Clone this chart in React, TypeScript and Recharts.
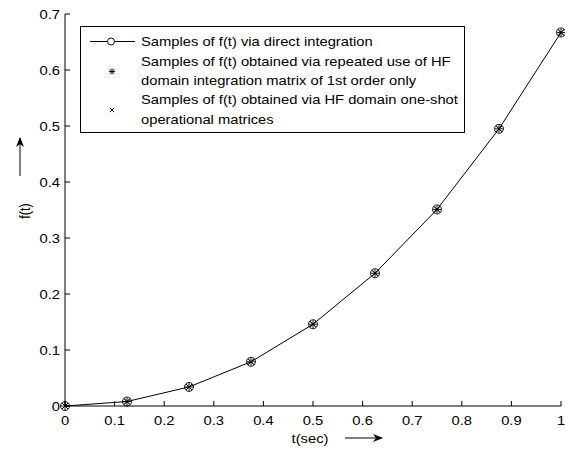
import React from 'react';
import { LineChart, Line, XAxis, YAxis, Legend } from 'recharts';

const tValues = [0, 0.125, 0.25, 0.375, 0.5, 0.625, 0.75, 0.875, 1];
const directSamples = [0, 0.008, 0.034, 0.079, 0.146, 0.237, 0.351, 0.495, 0.667];
const repeatedSamples = [0, 0.008, 0.034, 0.079, 0.146, 0.237, 0.351, 0.495, 0.667];
const oneShotSamples = [0, 0.008, 0.034, 0.079, 0.146, 0.237, 0.351, 0.495, 0.667];
const xTicks = [0, 0.1, 0.2, 0.3, 0.4, 0.5, 0.6, 0.7, 0.8, 0.9, 1];
const yTicks = [0, 0.1, 0.2, 0.3, 0.4, 0.5, 0.6, 0.7];
const legendLines = [
  ['Samples of f(t) via direct integration'],
  ['Samples of f(t) obtained via repeated use of HF', 'domain integration matrix of 1st order only'],
  ['Samples of f(t) obtained via HF domain one-shot', 'operational matrices'],
];
const xTitle = 't(sec)';
const yTitle = 'f(t)';

const data = tValues.map((t, i) => ({
  t,
  direct: directSamples[i],
  repeated: repeatedSamples[i],
  oneshot: oneShotSamples[i],
}));

const FONT = '"Liberation Sans", Arial, Helvetica, sans-serif';
const FS = 12.6;
const SX = 1.17;

const fmt = (v: number) => String(v);

const SText = ({ x, y, anchor = 'start', children }: any) => (
  <g transform={`translate(${x},${y}) scale(${SX},1)`}>
    <text x={0} y={0} textAnchor={anchor} fontFamily={FONT} fontSize={FS} fill="#000">
      {children}
    </text>
  </g>
);

const BottomTick = (p: any) => (
  <g>
    <line x1={p.x} y1={p.y} x2={p.x} y2={p.y - 5} stroke="#000" strokeWidth={1} />
    <SText x={p.x} y={p.y + 19} anchor="middle">{fmt(p.payload.value)}</SText>
  </g>
);
const TopTick = (p: any) => (
  <line x1={p.x} y1={p.y} x2={p.x} y2={p.y + 5} stroke="#000" strokeWidth={1} />
);
const LeftTick = (p: any) => (
  <g>
    <line x1={p.x} y1={p.y} x2={p.x + 5} y2={p.y} stroke="#000" strokeWidth={1} />
    <SText x={p.x - 5} y={p.y + 4.5} anchor="end">{fmt(p.payload.value)}</SText>
  </g>
);
const RightTick = (p: any) => (
  <line x1={p.x} y1={p.y} x2={p.x - 5} y2={p.y} stroke="#000" strokeWidth={1} />
);

const circleDot = (p: any) => (
  <circle key={`c${p.index}`} cx={p.cx} cy={p.cy} r={4.5} fill="none" stroke="#000" strokeWidth={0.9} />
);
const starShape = (cx: number, cy: number, s: number, k: string) => (
  <g key={k} stroke="#000" strokeWidth={0.9}>
    <line x1={cx - s} y1={cy} x2={cx + s} y2={cy} />
    <line x1={cx} y1={cy - s} x2={cx} y2={cy + s} />
    <line x1={cx - s * 0.7} y1={cy - s * 0.7} x2={cx + s * 0.7} y2={cy + s * 0.7} />
    <line x1={cx - s * 0.7} y1={cy + s * 0.7} x2={cx + s * 0.7} y2={cy - s * 0.7} />
  </g>
);
const xShape = (cx: number, cy: number, s: number, k: string) => (
  <g key={k} stroke="#000" strokeWidth={0.9}>
    <line x1={cx - s} y1={cy - s} x2={cx + s} y2={cy + s} />
    <line x1={cx - s} y1={cy + s} x2={cx + s} y2={cy - s} />
  </g>
);
const starDot = (p: any) => starShape(p.cx, p.cy, 4, `s${p.index}`);
const xDot = (p: any) => xShape(p.cx, p.cy, 3, `x${p.index}`);

const LegendBox = () => (
  <svg width={386} height={108} style={{ display: 'block' }}>
    <rect x={0.5} y={0.5} width={384} height={106} fill="#fff" stroke="#000" strokeWidth={1} />
    <line x1={10} y1={15.5} x2={55} y2={15.5} stroke="#000" strokeWidth={1} />
    <circle cx={31} cy={15.5} r={3.5} fill="#fff" stroke="#000" strokeWidth={0.9} />
    {starShape(32, 45.5, 3.2, 'ls')}
    {xShape(32, 84, 2.2, 'lx')}
    <SText x={61} y={20}>{legendLines[0][0]}</SText>
    <SText x={61} y={39.5}>{legendLines[1][0]}</SText>
    <SText x={61} y={58.5}>{legendLines[1][1]}</SText>
    <SText x={61} y={78}>{legendLines[2][0]}</SText>
    <SText x={61} y={98}>{legendLines[2][1]}</SText>
  </svg>
);

export default function App() {
  return (
    <div style={{ position: 'absolute', left: 0, top: 0, width: 565, height: 450, background: '#fff' }}>
      <LineChart width={565} height={450} data={data} margin={{ top: 14, right: 4, bottom: 14, left: 0 }}>
        <XAxis
          dataKey="t"
          type="number"
          domain={[0, 1]}
          ticks={xTicks}
          interval={0}
          tickSize={0}
          tickMargin={0}
          tickLine={false}
          axisLine={{ stroke: '#000', strokeWidth: 1 }}
          tick={BottomTick}
          height={30}
        />
        <XAxis
          xAxisId="top"
          orientation="top"
          dataKey="t"
          type="number"
          domain={[0, 1]}
          ticks={xTicks}
          interval={0}
          tickSize={0}
          tickMargin={0}
          tickLine={false}
          axisLine={{ stroke: '#000', strokeWidth: 1 }}
          tick={TopTick}
          height={0}
        />
        <YAxis
          type="number"
          domain={[0, 0.7]}
          ticks={yTicks}
          interval={0}
          tickSize={0}
          tickMargin={0}
          tickLine={false}
          axisLine={{ stroke: '#000', strokeWidth: 1 }}
          tick={LeftTick}
          width={65}
        />
        <YAxis
          yAxisId="right"
          orientation="right"
          type="number"
          domain={[0, 0.7]}
          ticks={yTicks}
          interval={0}
          tickSize={0}
          tickMargin={0}
          tickLine={false}
          axisLine={{ stroke: '#000', strokeWidth: 1 }}
          tick={RightTick}
          width={0}
        />
        <Legend
          layout="vertical"
          verticalAlign="middle"
          align="center"
          content={() => <LegendBox />}
          wrapperStyle={{ left: 80, top: 26, width: 386, height: 108 }}
        />
        <Line dataKey="direct" type="linear" stroke="#000" strokeWidth={1} dot={circleDot} activeDot={false} isAnimationActive={false} />
        <Line dataKey="repeated" type="linear" stroke="none" dot={starDot} activeDot={false} isAnimationActive={false} />
        <Line dataKey="oneshot" type="linear" stroke="none" dot={xDot} activeDot={false} isAnimationActive={false} />
      </LineChart>
      <svg width={565} height={450} style={{ position: 'absolute', left: 0, top: 0, pointerEvents: 'none' }}>
        <defs>
          <marker id="ah" markerWidth={10} markerHeight={8} refX={9} refY={4} orient="auto" markerUnits="userSpaceOnUse">
            <path d="M0,0 L10,4 L0,8 L3,4 Z" fill="#000" />
          </marker>
        </defs>
        <SText x={310} y={442.5} anchor="middle">{xTitle}</SText>
        <line x1={345} y1={438} x2={382} y2={438} stroke="#000" strokeWidth={1} markerEnd="url(#ah)" />
        <g transform="translate(30,211) rotate(-90) scale(1,1.17)">
          <text x={0} y={0} textAnchor="middle" fontFamily={FONT} fontSize={FS} fill="#000">{yTitle}</text>
        </g>
        <line x1={20} y1={176} x2={20} y2={138} stroke="#000" strokeWidth={1} markerEnd="url(#ah)" />
      </svg>
    </div>
  );
}
